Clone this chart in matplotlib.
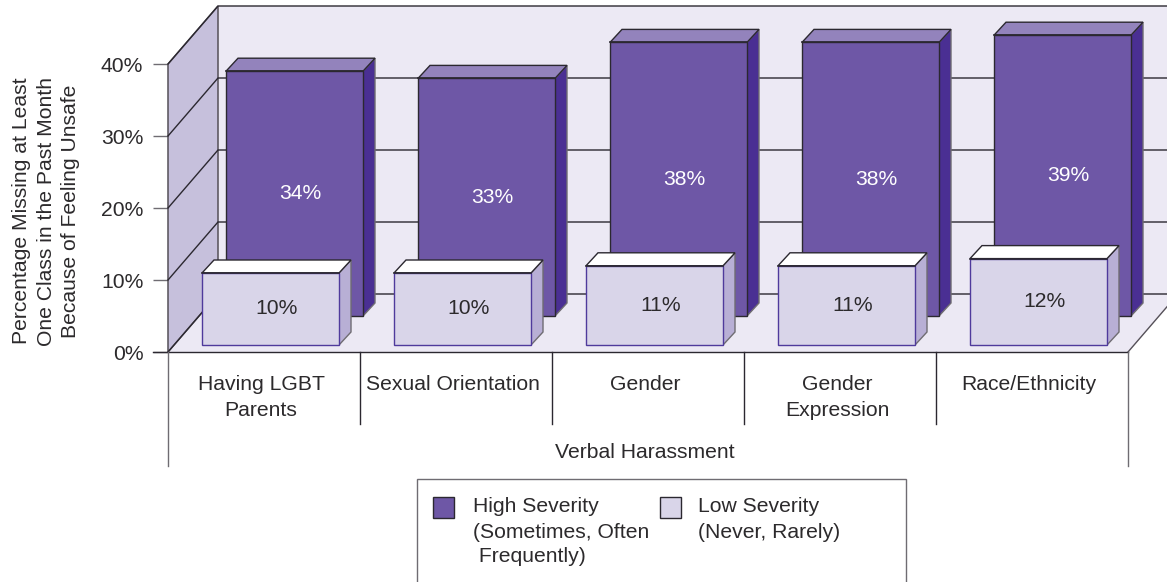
import matplotlib
matplotlib.use("Agg")
import matplotlib.pyplot as plt
from matplotlib.patches import Polygon, Rectangle
from matplotlib.transforms import Bbox

categories = ["Having LGBT\nParents", "Sexual Orientation", "Gender", "Gender\nExpression", "Race/Ethnicity"]
group_label = "Verbal Harassment"
high_values = [34, 33, 38, 38, 39]
low_values = [10, 10, 11, 11, 12]
y_ticks = [0, 10, 20, 30, 40]
y_label = "Percentage Missing at Least\nOne Class in the Past Month\nBecause of Feeling Unsafe"
legend_high = ["High Severity", "(Sometimes, Often,", " Frequently)"]
legend_low = ["Low Severity", "(Never, Rarely)"]

W, H = 1167, 582
plt.rcParams["font.family"] = ["Liberation Sans", "DejaVu Sans"]
TXT = "#2C2A2C"
FS = 15.2
fig = plt.figure(figsize=(W / 100, H / 100), dpi=100)
fig.patch.set_facecolor("white")
L, R, T, B = 168, 1128, 64, 352
ax = fig.add_axes([L / W, 1 - B / H, (R - L) / W, (B - T) / H])
ax.set_xlim(0, 5)
ax.set_ylim(0, 40)
ax.patch.set_visible(False)
px = 5 / (R - L)      # one pixel in category units
py = 40 / (B - T)     # one pixel in percent units
DX, DY = 50 * px, 58 * py   # depth of the chart box
EDGE = "#2b2830"
GREY = "#6f6c72"

def poly(pts, fc, ec=EDGE, lw=1.0, z=1):
    ax.add_patch(Polygon(pts, closed=True, fc=fc, ec=ec, lw=lw, zorder=z, clip_on=False, joinstyle="miter"))

# chart box
WALL, BACK = "#C6C0DC", "#ECE9F4"
far = 5.4
poly([(DX, DY), (far, DY), (far, DY + 40), (DX, DY + 40)], BACK, ec="none", z=1)
poly([(0, 0), (5, 0), (5 + DX, DY), (far, DY), (DX, DY)], BACK, ec="none", z=1)
poly([(0, 0), (DX, DY), (DX, DY + 40), (0, 40)], WALL, ec="#555058", lw=1.1, z=2)
for v in y_ticks:
    ax.plot([0, DX, far], [v, DY + v, DY + v], color=EDGE, lw=1.0, zorder=2.5, clip_on=False)
ax.plot([5, 5 + DX], [0, DY], color="#555058", lw=1.0, zorder=2.5, clip_on=False)

def bars(values, x_off, base, front, side, top, front_ec, z):
    width = 137 * px
    d_x, d_y = 12 * px, 13 * py
    xs = [i + x_off for i in range(len(values))]
    ax.bar(xs, values, width=width, bottom=base, align="edge", color=front, edgecolor=front_ec,
           linewidth=1.0, zorder=z + 0.2, clip_on=False)
    for x, v in zip(xs, values):
        x1, y1 = x + width, base + v
        poly([(x1, base), (x1 + d_x, base + d_y), (x1 + d_x, y1 + d_y), (x1, y1)], side, ec=GREY, z=z)
        poly([(x, y1), (x1, y1), (x1 + d_x, y1 + d_y), (x + d_x, y1 + d_y)], top, ec=EDGE, z=z + 0.1)
        ax.plot([x, x1], [y1, y1], color=EDGE, lw=1.2, zorder=z + 0.3, clip_on=False)

HIGH_OFF, HIGH_BASE = 58 * px, 36 * py
LOW_OFF, LOW_BASE = 34 * px, 7 * py
bars(high_values, HIGH_OFF, HIGH_BASE, "#6E57A6", "#4A2F93", "#9383BC", "#2b2830", 3)
bars(low_values, LOW_OFF, LOW_BASE, "#D9D5E9", "#B8AFD5", "#FFFFFF", "#4F3A9C", 5)

bw = 137 * px
for i, (hv, lv) in enumerate(zip(high_values, low_values)):
    ax.text(i + HIGH_OFF + bw / 2 + 6 * px, HIGH_BASE + hv / 2, f"{hv}%", color="white", fontsize=FS,
            ha="center", va="center", zorder=4)
    ax.text(i + LOW_OFF + bw / 2 + 6 * px, LOW_BASE + lv / 2, f"{lv}%", color=TXT, fontsize=FS,
            ha="center", va="center", zorder=6)

# value axis
for s in ["top", "right", "left", "bottom"]:
    ax.spines[s].set_visible(False)
ax.set_xticks([])
ax.set_yticks(y_ticks)
ax.set_yticklabels([f"{v}%" for v in y_ticks], fontsize=FS, color=TXT)
ax.tick_params(axis="y", length=10.8, width=1.0, color=GREY, pad=7)

# category axis, in pixel offsets below the floor edge
ax.plot([-15 * px, 5], [0, 0], color=EDGE, lw=1.0, zorder=7, clip_on=False)
for i in range(len(categories) + 1):
    low = 466 if i in (0, len(categories)) else 424
    ax.plot([i, i], [0, (B - low) * py], color=EDGE if 0 < i < 5 else GREY, lw=1.0, zorder=7, clip_on=False)
for i, c in enumerate(categories):
    ax.text(i + 0.5 - 3 * px, (B - 375.5) * py, c, fontsize=FS, color=TXT, ha="center", va="top",
            linespacing=1.44, clip_on=False)
ax.text(2.5 - 3 * px, (B - 452) * py, group_label, fontsize=FS, color=TXT, ha="center", va="center")

fig.text(46 / W, 1 - 211 / H, y_label, rotation=90, fontsize=FS, color=TXT, ha="center", va="center",
         multialignment="center", linespacing=1.34)

# legend box
def fx(x): return x / W
def fy(y): return 1 - y / H
fig.add_artist(Rectangle((fx(417), fy(592)), 489 / W, 113 / H, transform=fig.transFigure,
                         fc="white", ec=GREY, lw=1.0))
fig.add_artist(Rectangle((fx(433), fy(518)), 21 / W, 21 / H, transform=fig.transFigure,
                         fc="#6E57A6", ec=EDGE, lw=1.0))
fig.add_artist(Rectangle((fx(660), fy(518)), 21 / W, 21 / H, transform=fig.transFigure,
                         fc="#D9D5E9", ec=EDGE, lw=1.0))
for j, line in enumerate(legend_high):
    t = fig.text(fx(473), fy(507 + j * 25), line, fontsize=FS, color=TXT, ha="left", va="center")
    t.set_clip_on(True)
    t.set_clip_box(Bbox([[0, 0], [649, H]]))
for j, line in enumerate(legend_low):
    fig.text(fx(698), fy(507 + j * 25), line, fontsize=FS, color=TXT, ha="left", va="center")

fig.savefig("out.png", dpi=100)
